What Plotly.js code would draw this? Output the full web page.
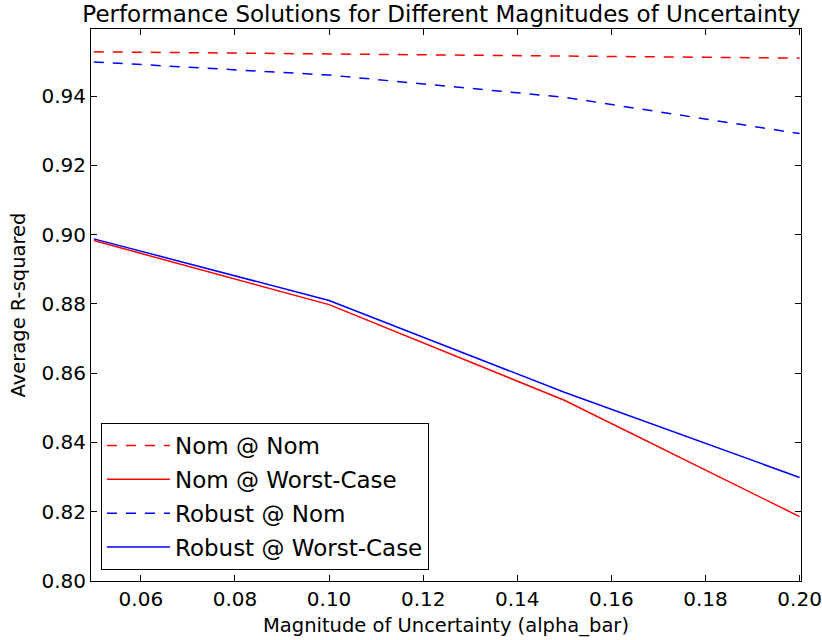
<!DOCTYPE html>
<html>
<head>
<meta charset="utf-8">
<script src="https://cdn.plot.ly/plotly-3.0.1.min.js"></script>
<style>html,body{margin:0;padding:0;background:#fff;}#chart{width:822px;height:640px;}</style>
</head>
<body>
<div id="chart"></div>
<script>
const alphaBar = [0.05, 0.10, 0.15, 0.20];
const nomAtNom = [0.9528, 0.9522, 0.9516, 0.9510];
const nomAtWorst = [0.8983, 0.8798, 0.8522, 0.8186];
const robustAtNom = [0.9499, 0.9461, 0.9397, 0.9292];
const robustAtWorst = [0.8988, 0.8810, 0.8545, 0.8299];
const seriesNames = ["Nom @ Nom", "Nom @ Worst-Case", "Robust @ Nom", "Robust @ Worst-Case"];
const xTicks = [0.06, 0.08, 0.10, 0.12, 0.14, 0.16, 0.18, 0.20];
const yTicks = [0.80, 0.82, 0.84, 0.86, 0.88, 0.90, 0.92, 0.94];

const font = "DejaVu Sans, sans-serif";
const dash = "10px,9px";
const traces = [
  {x: alphaBar, y: nomAtNom, name: seriesNames[0], legendgroup: "a", mode: "lines", line: {color: "#ff0000", width: 1.5, dash: dash}},
  {x: alphaBar, y: nomAtWorst, name: seriesNames[1], legendgroup: "b", mode: "lines", line: {color: "#ff0000", width: 1.5}},
  {x: alphaBar, y: robustAtNom, name: seriesNames[2], legendgroup: "c", mode: "lines", line: {color: "#0000ff", width: 1.5, dash: dash}},
  {x: alphaBar, y: robustAtWorst, name: seriesNames[3], legendgroup: "d", mode: "lines", line: {color: "#0000ff", width: 1.5}}
];
const layout = {
  width: 822, height: 640,
  margin: {l: 91, r: 21, t: 29, b: 59},
  paper_bgcolor: "#fff", plot_bgcolor: "#fff",
  font: {family: font, color: "#000"},
  title: {text: "Performance Solutions for Different Magnitudes of Uncertainty", font: {size: 23, family: font}, x: 0.537, xanchor: "center", y: 0.978, yanchor: "middle"},
  xaxis: {
    range: [0.0494, 0.2003], tickvals: xTicks, ticktext: xTicks.map(v => v.toFixed(2)),
    ticks: "inside", ticklen: 6, tickcolor: "#000", showline: true, linecolor: "#000", linewidth: 1, mirror: "allticks",
    showgrid: false, zeroline: false, tickfont: {size: 20, family: font},
    title: {text: "Magnitude of Uncertainty (alpha_bar)", font: {size: 19.5, family: font}, standoff: 8}
  },
  yaxis: {
    range: [0.80, 0.9594], tickvals: yTicks, ticktext: yTicks.map(v => v.toFixed(2)),
    ticks: "inside", ticklen: 6, tickcolor: "#000", showline: true, linecolor: "#000", linewidth: 1, mirror: "allticks",
    showgrid: false, zeroline: false, tickfont: {size: 20, family: font},
    title: {text: "Average R-squared", font: {size: 19.5, family: font}, standoff: 10}
  },
  legend: {x: 0.014, y: 0.02, xanchor: "left", yanchor: "bottom", bgcolor: "#fff", bordercolor: "#000", borderwidth: 1,
    font: {size: 23, family: font}, tracegroupgap: 1, itemwidth: 63},
  showlegend: true
};
Plotly.newPlot("chart", traces, layout, {displayModeBar: false, staticPlot: true});
</script>
</body>
</html>
